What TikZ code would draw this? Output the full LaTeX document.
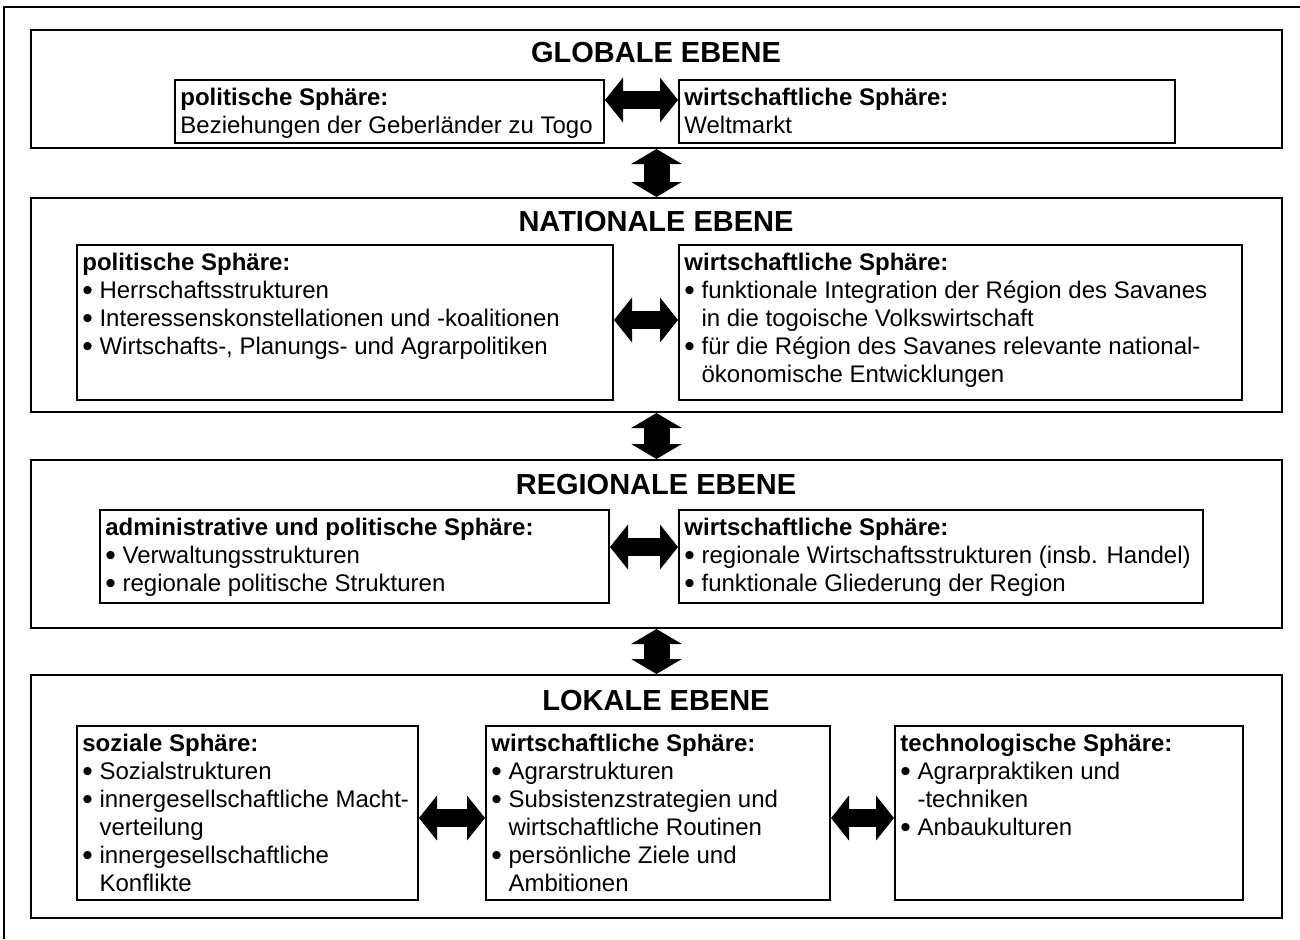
\documentclass[tikz,border=0pt]{standalone}
\usepackage{fontspec}
\setmainfont{Liberation Sans}
\usetikzlibrary{arrows.meta,fit}
\newcommand\bl{\raisebox{-0.12ex}{\scalebox{1.25}{\textbullet}}\ }
\newcommand\hg{\hphantom{\scalebox{1.25}{\textbullet}\ }}
\begin{document}
\begin{tikzpicture}[x=0.5pt,y=-0.5pt,
  lvl/.style={draw, line width=1pt, inner sep=0pt},
  sph/.style={draw, line width=1pt, inner sep=0pt},
  ttl/.style={font=\fontsize{14.5}{17}\selectfont\bfseries, inner sep=0pt},
  txt/.style={anchor=north west, align=left, inner xsep=3pt, inner ysep=4.5pt, font=\fontsize{12}{14}\selectfont},
  harrow/.style={line width=9pt, {Triangle[length=9pt,width=22pt]}-{Triangle[length=9pt,width=22pt]}},
  varrow/.style={line width=13pt, {Triangle[length=7.5pt,width=25pt]}-{Triangle[length=7.5pt,width=25pt]}},
]
\useasboundingbox (0,0) rectangle (1300,939);
\fill[white] (0,0) rectangle (1300,939);
% outer frame
\draw[line width=1pt] (4,939) -- (4,7) -- (1300,7);

% global
\node[lvl, fit={(31,30) (1282,148)}] (G) {};
\node[ttl] (Gt) at (656,53) {GLOBALE EBENE};
\node[sph, fit={(175,80) (604,143)}] (G1) {};
\node[sph, fit={(679,80) (1175,143)}] (G2) {};
\node[txt] (G1t) at (G1.north west) {\textbf{politische Sphäre:}\\Beziehungen der Geberländer zu Togo};
\node[txt] (G2t) at (G2.north west) {\textbf{wirtschaftliche Sphäre:}\\Weltmarkt};

% national
\node[lvl, fit={(31,198) (1282,412)}] (N) {};
\node[ttl] (Nt) at (656,222) {NATIONALE EBENE};
\node[sph, fit={(77,245) (613,400)}] (N1) {};
\node[sph, fit={(679,245) (1242,400)}] (N2) {};
\node[txt] (N1t) at (N1.north west) {\textbf{politische Sphäre:}\\\bl Herrschaftsstrukturen\\\bl Interessenskonstellationen und -koalitionen\\\bl Wirtschafts-, Planungs- und Agrarpolitiken};
\node[txt] (N2t) at (N2.north west) {\textbf{wirtschaftliche Sphäre:}\\\bl funktionale Integration der Région des Savanes\\\hg in die togoische Volkswirtschaft\\\bl für die Région des Savanes relevante national-\\\hg ökonomische Entwicklungen};

% regional
\node[lvl, fit={(31,460) (1282,628)}] (R) {};
\node[ttl] (Rt) at (656,485) {REGIONALE EBENE};
\node[sph, fit={(100,510) (609,603)}] (R1) {};
\node[sph, fit={(679,510) (1203,603)}] (R2) {};
\node[txt] (R1t) at (R1.north west) {\textbf{administrative und politische Sphäre:}\\\bl Verwaltungsstrukturen\\\bl regionale politische Strukturen};
\node[txt] (R2t) at (R2.north west) {\textbf{wirtschaftliche Sphäre:}\\\bl regionale Wirtschaftsstrukturen (insb. Handel)\\\bl funktionale Gliederung der Region};

% local
\node[lvl, fit={(31,675) (1282,918)}] (L) {};
\node[ttl] (Lt) at (656,700) {LOKALE EBENE};
\node[sph, fit={(77,726) (418,900)}] (L1) {};
\node[sph, fit={(486,726) (830,900)}] (L2) {};
\node[sph, fit={(895,726) (1243,900)}] (L3) {};
\node[txt] (L1t) at (L1.north west) {\textbf{soziale Sphäre:}\\\bl Sozialstrukturen\\\bl innergesellschaftliche Macht-\\\hg verteilung\\\bl innergesellschaftliche\\\hg Konflikte};
\node[txt] (L2t) at (L2.north west) {\textbf{wirtschaftliche Sphäre:}\\\bl Agrarstrukturen\\\bl Subsistenzstrategien und\\\hg wirtschaftliche Routinen\\\bl persönliche Ziele und\\\hg Ambitionen};
\node[txt] (L3t) at (L3.north west) {\textbf{technologische Sphäre:}\\\bl Agrarpraktiken und\\\hg -techniken\\\bl Anbaukulturen};

% arrow levels
\coordinate (yG) at (0,100);
\coordinate (yN) at (0,320);
\coordinate (yR) at (0,547);
\coordinate (yL) at (0,818);

\draw[harrow] (G1.east |- yG) -- (G2.west |- yG);
\draw[harrow] (N1.east |- yN) -- (N2.west |- yN);
\draw[harrow] (R1.east |- yR) -- (R2.west |- yR);
\draw[harrow] (L1.east |- yL) -- (L2.west |- yL);
\draw[harrow] (L2.east |- yL) -- (L3.west |- yL);

\draw[varrow] (G.south) -- (N.north);
\draw[varrow] (N.south) -- (R.north);
\draw[varrow] (R.south) -- (L.north);
\end{tikzpicture}
\end{document}
